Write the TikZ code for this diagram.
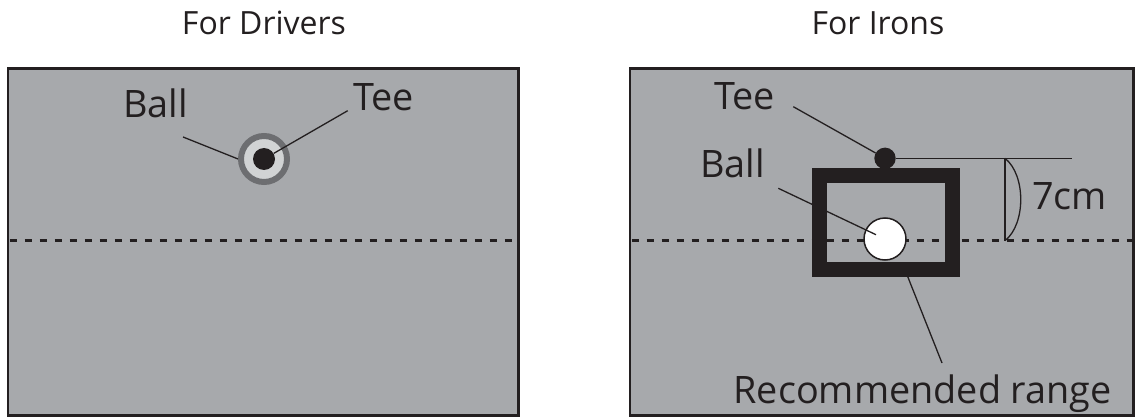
\documentclass[tikz,border=0pt]{standalone}
\usepackage{fontspec}
\setmainfont{Open Sans}
\definecolor{matgray}{HTML}{A7A9AC}
\definecolor{ringdark}{HTML}{6D6E71}
\definecolor{ringlight}{HTML}{D1D3D4}
\definecolor{ink}{HTML}{231F20}
\tikzset{
  mat/.style={draw=ink,fill=matgray,line width=2.5pt},
  centreline/.style={draw=ink,line width=2.6pt,dash pattern=on 7pt off 8pt},
  leader/.style={draw=ink,line width=1.3pt},
  lbl/.style={text=ink,font=\fontsize{37.8}{40}\selectfont,inner sep=0pt},
  ttl/.style={text=ink,font=\fontsize{32}{36}\selectfont,inner sep=0pt},
}
\begin{document}
\begin{tikzpicture}[x=1pt,y=-1pt]
        \useasboundingbox (0,0) rectangle (1135,417);
        % mats
        \draw[mat] (8,68.5) rectangle (518.5,415.5);
        \draw[mat] (630,68.5) rectangle (1133.5,415.5);
        \draw[centreline] (9.5,240.7) -- (517,240.7);
        \draw[centreline] (631.5,240.7) -- (1132,240.7);
        \node[ttl,anchor=base] (drivers) at (264,35) {For Drivers};
        \node[ttl,anchor=base] (irons) at (878,35) {For Irons};
        % drivers
        \node[circle,draw=ringdark,fill=ringlight,line width=6pt,minimum size=46pt,inner sep=0pt] (ring1) at (264,159) {};
        \node[circle,fill=ink,minimum size=22pt,inner sep=0pt] (tee1) at (264,159) {};
        \node[lbl,anchor=base west] (balltxt1) at (123,118) {Ball};
        \node[lbl,anchor=base west] (teetxt1) at (353,111) {Tee};
        \coordinate (balllbl1) at (183,137);
        \coordinate (teelbl1) at (347.7,110.7);
        \draw[leader] (balllbl1) -- (ring1.west);
        \draw[leader] (teelbl1) -- (tee1);
        % irons
        \node[draw=ink,line width=15pt,minimum width=133.1pt,minimum height=93.4pt,inner sep=0pt] (range) at (886.25,222.5) {};
        \node[circle,draw=ink,fill=white,line width=1.5pt,minimum size=42pt,inner sep=0pt] (ball2) at (885,239) {};
        \node[circle,fill=ink,minimum size=21.4pt,inner sep=0pt] (tee2) at (885,158.3) {};
        \coordinate (teelbl2) at (793.3,106.7);
        \coordinate (balllbl2) at (778.3,188.3);
        \coordinate (rangelbl) at (942,363);
        \coordinate (refend) at (1072,158.3);
        \coordinate (dimtop) at (1005,158.3);
        \coordinate (dimbot) at (1005,240.7);
        \draw[leader] (teelbl2) -- (tee2);
        \draw[leader,shorten >=10pt] (balllbl2) -- (ball2.center);
        \draw[leader] (rangelbl) -- (range);
        \draw[leader] (tee2) -- (refend);
        \draw[leader] (dimtop) -- (dimbot);
        \draw[leader] (dimtop) .. controls (1026,175) and (1026,224) .. (dimbot);
        \node[lbl,anchor=base west] (teetxt2) at (714,110) {Tee};
        \node[lbl,anchor=base west] (balltxt2) at (700,178) {Ball};
        \node[lbl,anchor=base west] (dimtxt) at (1032,209) {7cm};
        \node[lbl,anchor=base east] (rangetxt) at (1112,403) {Recommended range};
\end{tikzpicture}
\end{document}
